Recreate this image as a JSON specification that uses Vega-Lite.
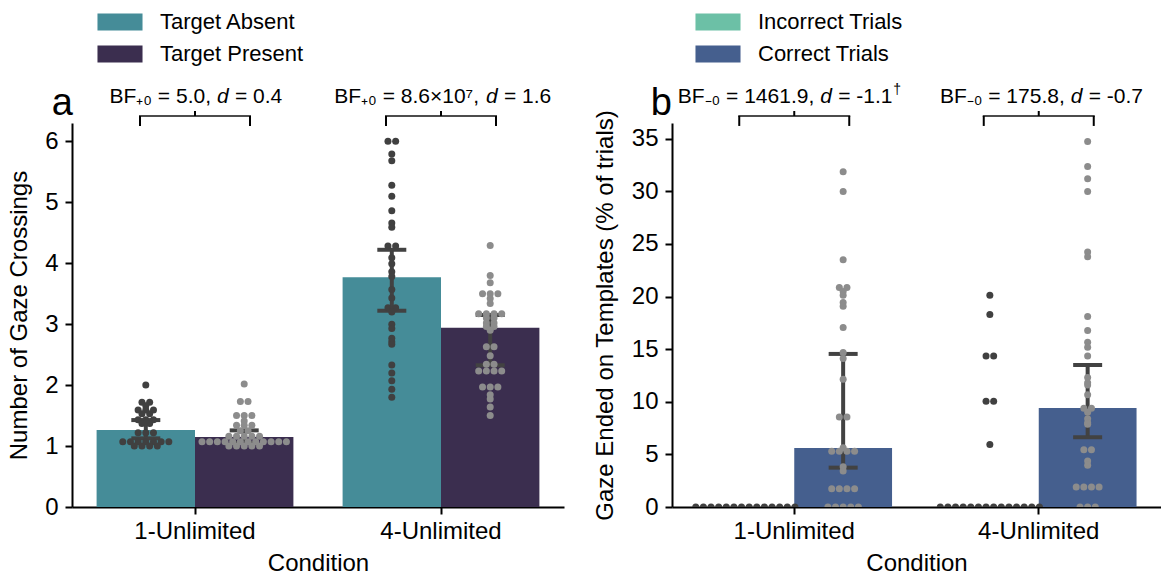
{
"$schema": "https://vega.github.io/schema/vega-lite/v6.json",
"background": "white",
"padding": {"left": 7, "top": 11, "right": 0, "bottom": 1},
"config": {
 "view": {"stroke": null},
 "font": "Liberation Sans",
 "axis": {"labelFont": "Liberation Sans", "labelFontSize": 24, "labelColor": "#000", "titleFont": "Liberation Sans", "titleFontSize": 24, "titleFontWeight": "normal", "titleColor": "#000", "domainColor": "#000", "domainWidth": 2, "tickColor": "#000", "tickWidth": 2, "tickSize": 7, "grid": false},
 "legend": {"labelFont": "Liberation Sans", "labelFontSize": 22, "labelColor": "#000", "symbolStrokeWidth": 0, "symbolOpacity": 1, "padding": 0, "rowPadding": 10, "labelOffset": 29, "symbolType": "M-2.65,-1H2.65V1H-2.65Z", "symbolSize": 289},
 "title": {"font": "Liberation Sans", "fontSize": 38, "fontWeight": "normal", "color": "#000"},
 "text": {"font": "Liberation Sans", "fontSize": 21, "color": "#000"}
},
"datasets": {
 "barsA": [
  {"Condition": "1-Unlimited", "Group": "Target Absent", "mean": 1.262, "lo": 1.126, "hi": 1.426},
  {"Condition": "1-Unlimited", "Group": "Target Present", "mean": 1.148, "lo": 1.05, "hi": 1.257},
  {"Condition": "4-Unlimited", "Group": "Target Absent", "mean": 3.77, "lo": 3.22, "hi": 4.22},
  {"Condition": "4-Unlimited", "Group": "Target Present", "mean": 2.94, "lo": 2.325, "hi": 3.15}
 ],
 "barsB": [
  {"Condition": "1-Unlimited", "Group": "Incorrect Trials", "mean": 0},
  {"Condition": "1-Unlimited", "Group": "Correct Trials", "mean": 5.61, "lo": 3.74, "hi": 14.55},
  {"Condition": "4-Unlimited", "Group": "Incorrect Trials", "mean": 0},
  {"Condition": "4-Unlimited", "Group": "Correct Trials", "mean": 9.42, "lo": 6.63, "hi": 13.5}
 ],
 "ptsA": [
  {"Condition": "1-Unlimited", "Group": "Target Absent", "value": 2.0},
  {"Condition": "1-Unlimited", "Group": "Target Absent", "value": 1.72},
  {"Condition": "1-Unlimited", "Group": "Target Absent", "value": 1.72},
  {"Condition": "1-Unlimited", "Group": "Target Absent", "value": 1.66},
  {"Condition": "1-Unlimited", "Group": "Target Absent", "value": 1.59},
  {"Condition": "1-Unlimited", "Group": "Target Absent", "value": 1.59},
  {"Condition": "1-Unlimited", "Group": "Target Absent", "value": 1.59},
  {"Condition": "1-Unlimited", "Group": "Target Absent", "value": 1.53},
  {"Condition": "1-Unlimited", "Group": "Target Absent", "value": 1.53},
  {"Condition": "1-Unlimited", "Group": "Target Absent", "value": 1.43},
  {"Condition": "1-Unlimited", "Group": "Target Absent", "value": 1.43},
  {"Condition": "1-Unlimited", "Group": "Target Absent", "value": 1.43},
  {"Condition": "1-Unlimited", "Group": "Target Absent", "value": 1.37},
  {"Condition": "1-Unlimited", "Group": "Target Absent", "value": 1.37},
  {"Condition": "1-Unlimited", "Group": "Target Absent", "value": 1.22},
  {"Condition": "1-Unlimited", "Group": "Target Absent", "value": 1.22},
  {"Condition": "1-Unlimited", "Group": "Target Absent", "value": 1.22},
  {"Condition": "1-Unlimited", "Group": "Target Absent", "value": 1.07},
  {"Condition": "1-Unlimited", "Group": "Target Absent", "value": 1.07},
  {"Condition": "1-Unlimited", "Group": "Target Absent", "value": 1.07},
  {"Condition": "1-Unlimited", "Group": "Target Absent", "value": 1.07},
  {"Condition": "1-Unlimited", "Group": "Target Absent", "value": 1.07},
  {"Condition": "1-Unlimited", "Group": "Target Absent", "value": 1.07},
  {"Condition": "1-Unlimited", "Group": "Target Absent", "value": 1.07},
  {"Condition": "1-Unlimited", "Group": "Target Absent", "value": 1.0},
  {"Condition": "1-Unlimited", "Group": "Target Absent", "value": 1.0},
  {"Condition": "1-Unlimited", "Group": "Target Absent", "value": 1.0},
  {"Condition": "1-Unlimited", "Group": "Target Absent", "value": 1.0},
  {"Condition": "1-Unlimited", "Group": "Target Present", "value": 2.02},
  {"Condition": "1-Unlimited", "Group": "Target Present", "value": 1.73},
  {"Condition": "1-Unlimited", "Group": "Target Present", "value": 1.73},
  {"Condition": "1-Unlimited", "Group": "Target Present", "value": 1.5},
  {"Condition": "1-Unlimited", "Group": "Target Present", "value": 1.5},
  {"Condition": "1-Unlimited", "Group": "Target Present", "value": 1.5},
  {"Condition": "1-Unlimited", "Group": "Target Present", "value": 1.41},
  {"Condition": "1-Unlimited", "Group": "Target Present", "value": 1.34},
  {"Condition": "1-Unlimited", "Group": "Target Present", "value": 1.34},
  {"Condition": "1-Unlimited", "Group": "Target Present", "value": 1.34},
  {"Condition": "1-Unlimited", "Group": "Target Present", "value": 1.25},
  {"Condition": "1-Unlimited", "Group": "Target Present", "value": 1.25},
  {"Condition": "1-Unlimited", "Group": "Target Present", "value": 1.16},
  {"Condition": "1-Unlimited", "Group": "Target Present", "value": 1.16},
  {"Condition": "1-Unlimited", "Group": "Target Present", "value": 1.16},
  {"Condition": "1-Unlimited", "Group": "Target Present", "value": 1.16},
  {"Condition": "1-Unlimited", "Group": "Target Present", "value": 1.16},
  {"Condition": "1-Unlimited", "Group": "Target Present", "value": 1.07},
  {"Condition": "1-Unlimited", "Group": "Target Present", "value": 1.07},
  {"Condition": "1-Unlimited", "Group": "Target Present", "value": 1.07},
  {"Condition": "1-Unlimited", "Group": "Target Present", "value": 1.07},
  {"Condition": "1-Unlimited", "Group": "Target Present", "value": 1.07},
  {"Condition": "1-Unlimited", "Group": "Target Present", "value": 1.07},
  {"Condition": "1-Unlimited", "Group": "Target Present", "value": 1.07},
  {"Condition": "1-Unlimited", "Group": "Target Present", "value": 1.07},
  {"Condition": "1-Unlimited", "Group": "Target Present", "value": 1.07},
  {"Condition": "1-Unlimited", "Group": "Target Present", "value": 1.07},
  {"Condition": "1-Unlimited", "Group": "Target Present", "value": 1.07},
  {"Condition": "1-Unlimited", "Group": "Target Present", "value": 1.07},
  {"Condition": "1-Unlimited", "Group": "Target Present", "value": 1.0},
  {"Condition": "1-Unlimited", "Group": "Target Present", "value": 1.0},
  {"Condition": "1-Unlimited", "Group": "Target Present", "value": 1.0},
  {"Condition": "1-Unlimited", "Group": "Target Present", "value": 1.0},
  {"Condition": "1-Unlimited", "Group": "Target Present", "value": 1.0},
  {"Condition": "4-Unlimited", "Group": "Target Absent", "value": 6.0},
  {"Condition": "4-Unlimited", "Group": "Target Absent", "value": 6.0},
  {"Condition": "4-Unlimited", "Group": "Target Absent", "value": 5.79},
  {"Condition": "4-Unlimited", "Group": "Target Absent", "value": 5.68},
  {"Condition": "4-Unlimited", "Group": "Target Absent", "value": 5.28},
  {"Condition": "4-Unlimited", "Group": "Target Absent", "value": 5.1},
  {"Condition": "4-Unlimited", "Group": "Target Absent", "value": 4.86},
  {"Condition": "4-Unlimited", "Group": "Target Absent", "value": 4.66},
  {"Condition": "4-Unlimited", "Group": "Target Absent", "value": 4.59},
  {"Condition": "4-Unlimited", "Group": "Target Absent", "value": 4.28},
  {"Condition": "4-Unlimited", "Group": "Target Absent", "value": 4.28},
  {"Condition": "4-Unlimited", "Group": "Target Absent", "value": 4.09},
  {"Condition": "4-Unlimited", "Group": "Target Absent", "value": 3.99},
  {"Condition": "4-Unlimited", "Group": "Target Absent", "value": 3.86},
  {"Condition": "4-Unlimited", "Group": "Target Absent", "value": 3.78},
  {"Condition": "4-Unlimited", "Group": "Target Absent", "value": 3.57},
  {"Condition": "4-Unlimited", "Group": "Target Absent", "value": 3.43},
  {"Condition": "4-Unlimited", "Group": "Target Absent", "value": 3.27},
  {"Condition": "4-Unlimited", "Group": "Target Absent", "value": 3.27},
  {"Condition": "4-Unlimited", "Group": "Target Absent", "value": 3.2},
  {"Condition": "4-Unlimited", "Group": "Target Absent", "value": 3.0},
  {"Condition": "4-Unlimited", "Group": "Target Absent", "value": 2.93},
  {"Condition": "4-Unlimited", "Group": "Target Absent", "value": 2.77},
  {"Condition": "4-Unlimited", "Group": "Target Absent", "value": 2.71},
  {"Condition": "4-Unlimited", "Group": "Target Absent", "value": 2.67},
  {"Condition": "4-Unlimited", "Group": "Target Absent", "value": 2.33},
  {"Condition": "4-Unlimited", "Group": "Target Absent", "value": 2.2},
  {"Condition": "4-Unlimited", "Group": "Target Absent", "value": 2.07},
  {"Condition": "4-Unlimited", "Group": "Target Absent", "value": 1.93},
  {"Condition": "4-Unlimited", "Group": "Target Absent", "value": 1.8},
  {"Condition": "4-Unlimited", "Group": "Target Present", "value": 4.29},
  {"Condition": "4-Unlimited", "Group": "Target Present", "value": 3.8},
  {"Condition": "4-Unlimited", "Group": "Target Present", "value": 3.68},
  {"Condition": "4-Unlimited", "Group": "Target Present", "value": 3.5},
  {"Condition": "4-Unlimited", "Group": "Target Present", "value": 3.5},
  {"Condition": "4-Unlimited", "Group": "Target Present", "value": 3.5},
  {"Condition": "4-Unlimited", "Group": "Target Present", "value": 3.42},
  {"Condition": "4-Unlimited", "Group": "Target Present", "value": 3.34},
  {"Condition": "4-Unlimited", "Group": "Target Present", "value": 3.17},
  {"Condition": "4-Unlimited", "Group": "Target Present", "value": 3.17},
  {"Condition": "4-Unlimited", "Group": "Target Present", "value": 3.17},
  {"Condition": "4-Unlimited", "Group": "Target Present", "value": 3.17},
  {"Condition": "4-Unlimited", "Group": "Target Present", "value": 3.1},
  {"Condition": "4-Unlimited", "Group": "Target Present", "value": 3.1},
  {"Condition": "4-Unlimited", "Group": "Target Present", "value": 3.02},
  {"Condition": "4-Unlimited", "Group": "Target Present", "value": 3.02},
  {"Condition": "4-Unlimited", "Group": "Target Present", "value": 2.96},
  {"Condition": "4-Unlimited", "Group": "Target Present", "value": 2.96},
  {"Condition": "4-Unlimited", "Group": "Target Present", "value": 2.9},
  {"Condition": "4-Unlimited", "Group": "Target Present", "value": 2.63},
  {"Condition": "4-Unlimited", "Group": "Target Present", "value": 2.63},
  {"Condition": "4-Unlimited", "Group": "Target Present", "value": 2.48},
  {"Condition": "4-Unlimited", "Group": "Target Present", "value": 2.34},
  {"Condition": "4-Unlimited", "Group": "Target Present", "value": 2.34},
  {"Condition": "4-Unlimited", "Group": "Target Present", "value": 2.23},
  {"Condition": "4-Unlimited", "Group": "Target Present", "value": 2.23},
  {"Condition": "4-Unlimited", "Group": "Target Present", "value": 2.23},
  {"Condition": "4-Unlimited", "Group": "Target Present", "value": 2.23},
  {"Condition": "4-Unlimited", "Group": "Target Present", "value": 1.97},
  {"Condition": "4-Unlimited", "Group": "Target Present", "value": 1.97},
  {"Condition": "4-Unlimited", "Group": "Target Present", "value": 1.97},
  {"Condition": "4-Unlimited", "Group": "Target Present", "value": 1.84},
  {"Condition": "4-Unlimited", "Group": "Target Present", "value": 1.77},
  {"Condition": "4-Unlimited", "Group": "Target Present", "value": 1.64},
  {"Condition": "4-Unlimited", "Group": "Target Present", "value": 1.5}
 ],
 "ptsB": [
  {"Condition": "1-Unlimited", "Group": "Incorrect Trials", "value": 0},
  {"Condition": "1-Unlimited", "Group": "Incorrect Trials", "value": 0},
  {"Condition": "1-Unlimited", "Group": "Incorrect Trials", "value": 0},
  {"Condition": "1-Unlimited", "Group": "Incorrect Trials", "value": 0},
  {"Condition": "1-Unlimited", "Group": "Incorrect Trials", "value": 0},
  {"Condition": "1-Unlimited", "Group": "Incorrect Trials", "value": 0},
  {"Condition": "1-Unlimited", "Group": "Incorrect Trials", "value": 0},
  {"Condition": "1-Unlimited", "Group": "Incorrect Trials", "value": 0},
  {"Condition": "1-Unlimited", "Group": "Incorrect Trials", "value": 0},
  {"Condition": "1-Unlimited", "Group": "Incorrect Trials", "value": 0},
  {"Condition": "1-Unlimited", "Group": "Incorrect Trials", "value": 0},
  {"Condition": "1-Unlimited", "Group": "Incorrect Trials", "value": 0},
  {"Condition": "1-Unlimited", "Group": "Incorrect Trials", "value": 0},
  {"Condition": "1-Unlimited", "Group": "Incorrect Trials", "value": 0},
  {"Condition": "1-Unlimited", "Group": "Correct Trials", "value": 31.86},
  {"Condition": "1-Unlimited", "Group": "Correct Trials", "value": 29.99},
  {"Condition": "1-Unlimited", "Group": "Correct Trials", "value": 23.49},
  {"Condition": "1-Unlimited", "Group": "Correct Trials", "value": 20.86},
  {"Condition": "1-Unlimited", "Group": "Correct Trials", "value": 20.86},
  {"Condition": "1-Unlimited", "Group": "Correct Trials", "value": 20.48},
  {"Condition": "1-Unlimited", "Group": "Correct Trials", "value": 20.13},
  {"Condition": "1-Unlimited", "Group": "Correct Trials", "value": 19.43},
  {"Condition": "1-Unlimited", "Group": "Correct Trials", "value": 19.09},
  {"Condition": "1-Unlimited", "Group": "Correct Trials", "value": 17.05},
  {"Condition": "1-Unlimited", "Group": "Correct Trials", "value": 14.68},
  {"Condition": "1-Unlimited", "Group": "Correct Trials", "value": 14.11},
  {"Condition": "1-Unlimited", "Group": "Correct Trials", "value": 12.14},
  {"Condition": "1-Unlimited", "Group": "Correct Trials", "value": 8.56},
  {"Condition": "1-Unlimited", "Group": "Correct Trials", "value": 8.56},
  {"Condition": "1-Unlimited", "Group": "Correct Trials", "value": 5.64},
  {"Condition": "1-Unlimited", "Group": "Correct Trials", "value": 5.3},
  {"Condition": "1-Unlimited", "Group": "Correct Trials", "value": 5.3},
  {"Condition": "1-Unlimited", "Group": "Correct Trials", "value": 5.3},
  {"Condition": "1-Unlimited", "Group": "Correct Trials", "value": 5.3},
  {"Condition": "1-Unlimited", "Group": "Correct Trials", "value": 3.83},
  {"Condition": "1-Unlimited", "Group": "Correct Trials", "value": 3.42},
  {"Condition": "1-Unlimited", "Group": "Correct Trials", "value": 1.74},
  {"Condition": "1-Unlimited", "Group": "Correct Trials", "value": 1.74},
  {"Condition": "1-Unlimited", "Group": "Correct Trials", "value": 1.74},
  {"Condition": "1-Unlimited", "Group": "Correct Trials", "value": 1.74},
  {"Condition": "1-Unlimited", "Group": "Correct Trials", "value": 0},
  {"Condition": "1-Unlimited", "Group": "Correct Trials", "value": 0},
  {"Condition": "1-Unlimited", "Group": "Correct Trials", "value": 0},
  {"Condition": "1-Unlimited", "Group": "Correct Trials", "value": 0},
  {"Condition": "1-Unlimited", "Group": "Correct Trials", "value": 0},
  {"Condition": "4-Unlimited", "Group": "Incorrect Trials", "value": 20.13},
  {"Condition": "4-Unlimited", "Group": "Incorrect Trials", "value": 18.29},
  {"Condition": "4-Unlimited", "Group": "Incorrect Trials", "value": 14.36},
  {"Condition": "4-Unlimited", "Group": "Incorrect Trials", "value": 14.36},
  {"Condition": "4-Unlimited", "Group": "Incorrect Trials", "value": 10.05},
  {"Condition": "4-Unlimited", "Group": "Incorrect Trials", "value": 10.05},
  {"Condition": "4-Unlimited", "Group": "Incorrect Trials", "value": 5.93},
  {"Condition": "4-Unlimited", "Group": "Incorrect Trials", "value": 0},
  {"Condition": "4-Unlimited", "Group": "Incorrect Trials", "value": 0},
  {"Condition": "4-Unlimited", "Group": "Incorrect Trials", "value": 0},
  {"Condition": "4-Unlimited", "Group": "Incorrect Trials", "value": 0},
  {"Condition": "4-Unlimited", "Group": "Incorrect Trials", "value": 0},
  {"Condition": "4-Unlimited", "Group": "Incorrect Trials", "value": 0},
  {"Condition": "4-Unlimited", "Group": "Incorrect Trials", "value": 0},
  {"Condition": "4-Unlimited", "Group": "Incorrect Trials", "value": 0},
  {"Condition": "4-Unlimited", "Group": "Incorrect Trials", "value": 0},
  {"Condition": "4-Unlimited", "Group": "Incorrect Trials", "value": 0},
  {"Condition": "4-Unlimited", "Group": "Incorrect Trials", "value": 0},
  {"Condition": "4-Unlimited", "Group": "Incorrect Trials", "value": 0},
  {"Condition": "4-Unlimited", "Group": "Incorrect Trials", "value": 0},
  {"Condition": "4-Unlimited", "Group": "Incorrect Trials", "value": 0},
  {"Condition": "4-Unlimited", "Group": "Correct Trials", "value": 34.75},
  {"Condition": "4-Unlimited", "Group": "Correct Trials", "value": 32.37},
  {"Condition": "4-Unlimited", "Group": "Correct Trials", "value": 31.2},
  {"Condition": "4-Unlimited", "Group": "Correct Trials", "value": 29.99},
  {"Condition": "4-Unlimited", "Group": "Correct Trials", "value": 24.25},
  {"Condition": "4-Unlimited", "Group": "Correct Trials", "value": 23.78},
  {"Condition": "4-Unlimited", "Group": "Correct Trials", "value": 18.1},
  {"Condition": "4-Unlimited", "Group": "Correct Trials", "value": 16.77},
  {"Condition": "4-Unlimited", "Group": "Correct Trials", "value": 15.66},
  {"Condition": "4-Unlimited", "Group": "Correct Trials", "value": 15.19},
  {"Condition": "4-Unlimited", "Group": "Correct Trials", "value": 14.36},
  {"Condition": "4-Unlimited", "Group": "Correct Trials", "value": 12.3},
  {"Condition": "4-Unlimited", "Group": "Correct Trials", "value": 11.82},
  {"Condition": "4-Unlimited", "Group": "Correct Trials", "value": 11.6},
  {"Condition": "4-Unlimited", "Group": "Correct Trials", "value": 10.68},
  {"Condition": "4-Unlimited", "Group": "Correct Trials", "value": 9.39},
  {"Condition": "4-Unlimited", "Group": "Correct Trials", "value": 9.39},
  {"Condition": "4-Unlimited", "Group": "Correct Trials", "value": 9.01},
  {"Condition": "4-Unlimited", "Group": "Correct Trials", "value": 8.4},
  {"Condition": "4-Unlimited", "Group": "Correct Trials", "value": 8.02},
  {"Condition": "4-Unlimited", "Group": "Correct Trials", "value": 7.86},
  {"Condition": "4-Unlimited", "Group": "Correct Trials", "value": 5.45},
  {"Condition": "4-Unlimited", "Group": "Correct Trials", "value": 5.45},
  {"Condition": "4-Unlimited", "Group": "Correct Trials", "value": 4.37},
  {"Condition": "4-Unlimited", "Group": "Correct Trials", "value": 3.96},
  {"Condition": "4-Unlimited", "Group": "Correct Trials", "value": 1.9},
  {"Condition": "4-Unlimited", "Group": "Correct Trials", "value": 1.9},
  {"Condition": "4-Unlimited", "Group": "Correct Trials", "value": 1.9},
  {"Condition": "4-Unlimited", "Group": "Correct Trials", "value": 1.9},
  {"Condition": "4-Unlimited", "Group": "Correct Trials", "value": 0},
  {"Condition": "4-Unlimited", "Group": "Correct Trials", "value": 0},
  {"Condition": "4-Unlimited", "Group": "Correct Trials", "value": 0}
 ],
 "annA": [
  {"Condition": "1-Unlimited", "pre": "BF₊₀ = 5.0,", "post": "= 0.4"},
  {"Condition": "4-Unlimited", "pre": "BF₊₀ = 8.6×10⁷,", "post": "= 1.6"}
 ],
 "annB": [
  {"Condition": "1-Unlimited", "pre": "BF₋₀ = 1461.9,", "post": "= -1.1"},
  {"Condition": "4-Unlimited", "pre": "BF₋₀ = 175.8,", "post": "= -0.7"}
 ]
},
"bounds": "flush",
"spacing": 108,
"resolve": {"scale": {"color": "independent"}, "legend": {"color": "independent"}},
"hconcat": [
 {
  "width": 492, "height": 384,
  "title": {"text": "a", "anchor": "start", "frame": "group", "align": "right", "baseline": "alphabetic", "offset": -142, "dx": 1},
  "resolve": {"scale": {"xOffset": "independent"}},
  "layer": [
   {"data": {"name": "barsA"}, "mark": {"type": "bar"},
    "encoding": {
     "x": {"field": "Condition", "type": "nominal", "title": "Condition", "scale": {"domain": ["1-Unlimited", "4-Unlimited"], "paddingInner": 0.2, "paddingOuter": 0.1}, "axis": {"labelAngle": 0, "labelPadding": 5, "titlePadding": 8}},
     "xOffset": {"field": "Group", "type": "nominal", "scale": {"domain": ["Target Absent", "Target Present"], "paddingInner": 0, "paddingOuter": 0}},
     "y": {"field": "mean", "type": "quantitative", "title": "Number of Gaze Crossings", "scale": {"domain": [0, 6.3], "nice": false}, "axis": {"values": [0, 1, 2, 3, 4, 5, 6], "format": "d", "labelPadding": 7, "titlePadding": 13}},
     "color": {"field": "Group", "type": "nominal", "scale": {"domain": ["Target Absent", "Target Present"], "range": ["#458c98", "#3b2e4f"]}, "legend": {"title": null, "orient": "none", "legendX": 37, "legendY": -112}}
    }},
   {"data": {"name": "barsA"},
    "transform": [{"filter": "isValid(datum.lo)"}, {"calculate": "datum.Group == 'Target Absent' ? -0.5 : 0.5", "as": "gx"}],
    "mark": {"type": "rule", "color": "#424242", "strokeWidth": 4},
    "encoding": {
     "x": {"field": "Condition", "type": "nominal", "title": "Condition", "scale": {"domain": ["1-Unlimited", "4-Unlimited"], "paddingInner": 0.2, "paddingOuter": 0.1}},
     "xOffset": {"field": "gx", "type": "quantitative", "scale": {"domain": [-1, 1], "nice": false, "zero": false}},
     "y": {"field": "lo", "type": "quantitative", "title": "Number of Gaze Crossings", "scale": {"domain": [0, 6.3], "nice": false}},
     "y2": {"field": "hi"}
    }},
   {"data": {"name": "barsA"},
    "transform": [{"filter": "isValid(datum.lo)"}, {"calculate": "datum.Group == 'Target Absent' ? -0.5 : 0.5", "as": "gx"}, {"fold": ["lo", "hi"], "as": ["end", "ci"]}],
    "mark": {"type": "tick", "orient": "horizontal", "color": "#424242", "size": 29, "thickness": 4, "opacity": 1},
    "encoding": {
     "x": {"field": "Condition", "type": "nominal", "title": "Condition", "scale": {"domain": ["1-Unlimited", "4-Unlimited"], "paddingInner": 0.2, "paddingOuter": 0.1}},
     "xOffset": {"field": "gx", "type": "quantitative", "scale": {"domain": [-1, 1], "nice": false, "zero": false}},
     "y": {"field": "ci", "type": "quantitative", "title": "Number of Gaze Crossings", "scale": {"domain": [0, 6.3], "nice": false}}
    }},
   {"data": {"name": "ptsA"},
    "transform": [
     {"window": [{"op": "row_number", "as": "i"}, {"op": "count", "as": "n"}], "groupby": ["Condition", "Group", "value"], "frame": [null, null]},
     {"calculate": "(datum.Group == 'Target Absent' ? -0.5 : 0.5) + (datum.i - (datum.n + 1) / 2) * 0.078", "as": "off"}
    ],
    "mark": {"type": "circle", "size": 49, "opacity": 1, "clip": true},
    "encoding": {
     "x": {"field": "Condition", "type": "nominal", "title": "Condition", "scale": {"domain": ["1-Unlimited", "4-Unlimited"], "paddingInner": 0.2, "paddingOuter": 0.1}},
     "xOffset": {"field": "off", "type": "quantitative", "scale": {"domain": [-1, 1], "nice": false, "zero": false}},
     "y": {"field": "value", "type": "quantitative", "title": "Number of Gaze Crossings", "scale": {"domain": [0, 6.3], "nice": false}},
     "color": {"condition": {"test": "datum.Group == 'Target Absent'", "value": "#404040"}, "value": "#8c8c8c"}
    }},
   {"data": {"name": "annA"},
    "mark": {"type": "tick", "orient": "horizontal", "color": "#000", "size": 112, "thickness": 2},
    "encoding": {
     "x": {"field": "Condition", "type": "nominal", "title": "Condition", "scale": {"domain": ["1-Unlimited", "4-Unlimited"], "paddingInner": 0.2, "paddingOuter": 0.1}},
     "y": {"datum": 6.415, "type": "quantitative", "title": "Number of Gaze Crossings", "scale": {"domain": [0, 6.3], "nice": false}}
    }},
   {"data": {"name": "annA"},
    "mark": {"type": "rule", "color": "#000", "strokeWidth": 2, "xOffset": -55},
    "encoding": {
     "x": {"field": "Condition", "type": "nominal", "title": "Condition", "scale": {"domain": ["1-Unlimited", "4-Unlimited"], "paddingInner": 0.2, "paddingOuter": 0.1}},
     "y": {"datum": 6.415, "type": "quantitative", "title": "Number of Gaze Crossings", "scale": {"domain": [0, 6.3], "nice": false}},
     "y2": {"datum": 6.251}
    }},
   {"data": {"name": "annA"},
    "mark": {"type": "rule", "color": "#000", "strokeWidth": 2, "xOffset": 55},
    "encoding": {
     "x": {"field": "Condition", "type": "nominal", "title": "Condition", "scale": {"domain": ["1-Unlimited", "4-Unlimited"], "paddingInner": 0.2, "paddingOuter": 0.1}},
     "y": {"datum": 6.415, "type": "quantitative", "title": "Number of Gaze Crossings", "scale": {"domain": [0, 6.3], "nice": false}},
     "y2": {"datum": 6.251}
    }},
   {"data": {"name": "annA"},
    "mark": {"type": "rule", "color": "#000", "strokeWidth": 2},
    "encoding": {
     "x": {"field": "Condition", "type": "nominal", "title": "Condition", "scale": {"domain": ["1-Unlimited", "4-Unlimited"], "paddingInner": 0.2, "paddingOuter": 0.1}},
     "y": {"datum": 6.497, "type": "quantitative", "title": "Number of Gaze Crossings", "scale": {"domain": [0, 6.3], "nice": false}},
     "y2": {"datum": 6.415}
    }},
   {"data": {"name": "annA"}, "transform": [{"filter": "datum.Condition == '1-Unlimited'"}],
    "mark": {"type": "text", "align": "right", "baseline": "alphabetic", "dx": 16},
    "encoding": {
     "x": {"field": "Condition", "type": "nominal", "title": "Condition", "scale": {"domain": ["1-Unlimited", "4-Unlimited"], "paddingInner": 0.2, "paddingOuter": 0.1}},
     "y": {"datum": 6.633, "type": "quantitative", "title": "Number of Gaze Crossings", "scale": {"domain": [0, 6.3], "nice": false}},
     "text": {"field": "pre"}
    }},
   {"data": {"name": "annA"}, "transform": [{"filter": "datum.Condition == '1-Unlimited'"}],
    "mark": {"type": "text", "align": "left", "baseline": "alphabetic", "dx": 22, "text": "d", "fontStyle": "italic"},
    "encoding": {
     "x": {"field": "Condition", "type": "nominal", "title": "Condition", "scale": {"domain": ["1-Unlimited", "4-Unlimited"], "paddingInner": 0.2, "paddingOuter": 0.1}},
     "y": {"datum": 6.633, "type": "quantitative", "title": "Number of Gaze Crossings", "scale": {"domain": [0, 6.3], "nice": false}}
    }},
   {"data": {"name": "annA"}, "transform": [{"filter": "datum.Condition == '1-Unlimited'"}],
    "mark": {"type": "text", "align": "left", "baseline": "alphabetic", "dx": 40},
    "encoding": {
     "x": {"field": "Condition", "type": "nominal", "title": "Condition", "scale": {"domain": ["1-Unlimited", "4-Unlimited"], "paddingInner": 0.2, "paddingOuter": 0.1}},
     "y": {"datum": 6.633, "type": "quantitative", "title": "Number of Gaze Crossings", "scale": {"domain": [0, 6.3], "nice": false}},
     "text": {"field": "post"}
    }},
   {"data": {"name": "annA"}, "transform": [{"filter": "datum.Condition == '4-Unlimited'"}],
    "mark": {"type": "text", "align": "right", "baseline": "alphabetic", "dx": 38},
    "encoding": {
     "x": {"field": "Condition", "type": "nominal", "title": "Condition", "scale": {"domain": ["1-Unlimited", "4-Unlimited"], "paddingInner": 0.2, "paddingOuter": 0.1}},
     "y": {"datum": 6.633, "type": "quantitative", "title": "Number of Gaze Crossings", "scale": {"domain": [0, 6.3], "nice": false}},
     "text": {"field": "pre"}
    }},
   {"data": {"name": "annA"}, "transform": [{"filter": "datum.Condition == '4-Unlimited'"}],
    "mark": {"type": "text", "align": "left", "baseline": "alphabetic", "dx": 45, "text": "d", "fontStyle": "italic"},
    "encoding": {
     "x": {"field": "Condition", "type": "nominal", "title": "Condition", "scale": {"domain": ["1-Unlimited", "4-Unlimited"], "paddingInner": 0.2, "paddingOuter": 0.1}},
     "y": {"datum": 6.633, "type": "quantitative", "title": "Number of Gaze Crossings", "scale": {"domain": [0, 6.3], "nice": false}}
    }},
   {"data": {"name": "annA"}, "transform": [{"filter": "datum.Condition == '4-Unlimited'"}],
    "mark": {"type": "text", "align": "left", "baseline": "alphabetic", "dx": 63},
    "encoding": {
     "x": {"field": "Condition", "type": "nominal", "title": "Condition", "scale": {"domain": ["1-Unlimited", "4-Unlimited"], "paddingInner": 0.2, "paddingOuter": 0.1}},
     "y": {"datum": 6.633, "type": "quantitative", "title": "Number of Gaze Crossings", "scale": {"domain": [0, 6.3], "nice": false}},
     "text": {"field": "post"}
    }}
  ]
 },
 {
  "width": 489, "height": 384,
  "title": {"text": "b", "anchor": "start", "frame": "group", "align": "right", "baseline": "alphabetic", "offset": -142, "dx": 0},
  "resolve": {"scale": {"xOffset": "independent"}},
  "layer": [
   {"data": {"name": "barsB"}, "mark": {"type": "bar"},
    "encoding": {
     "x": {"field": "Condition", "type": "nominal", "title": "Condition", "scale": {"domain": ["1-Unlimited", "4-Unlimited"], "paddingInner": 0.2, "paddingOuter": 0.1}, "axis": {"labelAngle": 0, "labelPadding": 5, "titlePadding": 8}},
     "xOffset": {"field": "Group", "type": "nominal", "scale": {"domain": ["Incorrect Trials", "Correct Trials"], "paddingInner": 0, "paddingOuter": 0}},
     "y": {"field": "mean", "type": "quantitative", "title": "Gaze Ended on Templates (% of trials)", "scale": {"domain": [0, 36.5], "nice": false}, "axis": {"values": [0, 5, 10, 15, 20, 25, 30, 35], "format": "d", "labelPadding": 7, "titlePadding": 14}},
     "color": {"field": "Group", "type": "nominal", "scale": {"domain": ["Incorrect Trials", "Correct Trials"], "range": ["#6cc0a6", "#455f8e"]}, "legend": {"title": null, "orient": "none", "legendX": 35, "legendY": -112}}
    }},
   {"data": {"name": "barsB"},
    "transform": [{"filter": "isValid(datum.lo)"}, {"calculate": "datum.Group == 'Incorrect Trials' ? -0.5 : 0.5", "as": "gx"}],
    "mark": {"type": "rule", "color": "#424242", "strokeWidth": 4},
    "encoding": {
     "x": {"field": "Condition", "type": "nominal", "title": "Condition", "scale": {"domain": ["1-Unlimited", "4-Unlimited"], "paddingInner": 0.2, "paddingOuter": 0.1}},
     "xOffset": {"field": "gx", "type": "quantitative", "scale": {"domain": [-1, 1], "nice": false, "zero": false}},
     "y": {"field": "lo", "type": "quantitative", "title": "Gaze Ended on Templates (% of trials)", "scale": {"domain": [0, 36.5], "nice": false}},
     "y2": {"field": "hi"}
    }},
   {"data": {"name": "barsB"},
    "transform": [{"filter": "isValid(datum.lo)"}, {"calculate": "datum.Group == 'Incorrect Trials' ? -0.5 : 0.5", "as": "gx"}, {"fold": ["lo", "hi"], "as": ["end", "ci"]}],
    "mark": {"type": "tick", "orient": "horizontal", "color": "#424242", "size": 29, "thickness": 4, "opacity": 1},
    "encoding": {
     "x": {"field": "Condition", "type": "nominal", "title": "Condition", "scale": {"domain": ["1-Unlimited", "4-Unlimited"], "paddingInner": 0.2, "paddingOuter": 0.1}},
     "xOffset": {"field": "gx", "type": "quantitative", "scale": {"domain": [-1, 1], "nice": false, "zero": false}},
     "y": {"field": "ci", "type": "quantitative", "title": "Gaze Ended on Templates (% of trials)", "scale": {"domain": [0, 36.5], "nice": false}}
    }},
   {"data": {"name": "ptsB"},
    "transform": [
     {"window": [{"op": "row_number", "as": "i"}, {"op": "count", "as": "n"}], "groupby": ["Condition", "Group", "value"], "frame": [null, null]},
     {"calculate": "(datum.Group == 'Incorrect Trials' ? -0.5 : 0.5) + (datum.i - (datum.n + 1) / 2) * 0.078", "as": "off"}
    ],
    "mark": {"type": "circle", "size": 49, "opacity": 1, "clip": true},
    "encoding": {
     "x": {"field": "Condition", "type": "nominal", "title": "Condition", "scale": {"domain": ["1-Unlimited", "4-Unlimited"], "paddingInner": 0.2, "paddingOuter": 0.1}},
     "xOffset": {"field": "off", "type": "quantitative", "scale": {"domain": [-1, 1], "nice": false, "zero": false}},
     "y": {"field": "value", "type": "quantitative", "title": "Gaze Ended on Templates (% of trials)", "scale": {"domain": [0, 36.5], "nice": false}},
     "color": {"condition": {"test": "datum.Group == 'Incorrect Trials'", "value": "#404040"}, "value": "#8c8c8c"}
    }},
   {"data": {"name": "annB"},
    "mark": {"type": "tick", "orient": "horizontal", "color": "#000", "size": 112, "thickness": 2},
    "encoding": {
     "x": {"field": "Condition", "type": "nominal", "title": "Condition", "scale": {"domain": ["1-Unlimited", "4-Unlimited"], "paddingInner": 0.2, "paddingOuter": 0.1}},
     "y": {"datum": 37.17, "type": "quantitative", "title": "Gaze Ended on Templates (% of trials)", "scale": {"domain": [0, 36.5], "nice": false}}
    }},
   {"data": {"name": "annB"},
    "mark": {"type": "rule", "color": "#000", "strokeWidth": 2, "xOffset": -55},
    "encoding": {
     "x": {"field": "Condition", "type": "nominal", "title": "Condition", "scale": {"domain": ["1-Unlimited", "4-Unlimited"], "paddingInner": 0.2, "paddingOuter": 0.1}},
     "y": {"datum": 37.17, "type": "quantitative", "title": "Gaze Ended on Templates (% of trials)", "scale": {"domain": [0, 36.5], "nice": false}},
     "y2": {"datum": 36.22}
    }},
   {"data": {"name": "annB"},
    "mark": {"type": "rule", "color": "#000", "strokeWidth": 2, "xOffset": 55},
    "encoding": {
     "x": {"field": "Condition", "type": "nominal", "title": "Condition", "scale": {"domain": ["1-Unlimited", "4-Unlimited"], "paddingInner": 0.2, "paddingOuter": 0.1}},
     "y": {"datum": 37.17, "type": "quantitative", "title": "Gaze Ended on Templates (% of trials)", "scale": {"domain": [0, 36.5], "nice": false}},
     "y2": {"datum": 36.22}
    }},
   {"data": {"name": "annB"},
    "mark": {"type": "rule", "color": "#000", "strokeWidth": 2},
    "encoding": {
     "x": {"field": "Condition", "type": "nominal", "title": "Condition", "scale": {"domain": ["1-Unlimited", "4-Unlimited"], "paddingInner": 0.2, "paddingOuter": 0.1}},
     "y": {"datum": 37.64, "type": "quantitative", "title": "Gaze Ended on Templates (% of trials)", "scale": {"domain": [0, 36.5], "nice": false}},
     "y2": {"datum": 37.17}
    }},
   {"data": {"name": "annB"}, "transform": [{"filter": "datum.Condition == '1-Unlimited'"}],
    "mark": {"type": "text", "align": "right", "baseline": "alphabetic", "dx": 20},
    "encoding": {
     "x": {"field": "Condition", "type": "nominal", "title": "Condition", "scale": {"domain": ["1-Unlimited", "4-Unlimited"], "paddingInner": 0.2, "paddingOuter": 0.1}},
     "y": {"datum": 38.43, "type": "quantitative", "title": "Gaze Ended on Templates (% of trials)", "scale": {"domain": [0, 36.5], "nice": false}},
     "text": {"field": "pre"}
    }},
   {"data": {"name": "annB"}, "transform": [{"filter": "datum.Condition == '1-Unlimited'"}],
    "mark": {"type": "text", "align": "left", "baseline": "alphabetic", "dx": 26, "text": "d", "fontStyle": "italic"},
    "encoding": {
     "x": {"field": "Condition", "type": "nominal", "title": "Condition", "scale": {"domain": ["1-Unlimited", "4-Unlimited"], "paddingInner": 0.2, "paddingOuter": 0.1}},
     "y": {"datum": 38.43, "type": "quantitative", "title": "Gaze Ended on Templates (% of trials)", "scale": {"domain": [0, 36.5], "nice": false}}
    }},
   {"data": {"name": "annB"}, "transform": [{"filter": "datum.Condition == '1-Unlimited'"}],
    "mark": {"type": "text", "align": "left", "baseline": "alphabetic", "dx": 44},
    "encoding": {
     "x": {"field": "Condition", "type": "nominal", "title": "Condition", "scale": {"domain": ["1-Unlimited", "4-Unlimited"], "paddingInner": 0.2, "paddingOuter": 0.1}},
     "y": {"datum": 38.43, "type": "quantitative", "title": "Gaze Ended on Templates (% of trials)", "scale": {"domain": [0, 36.5], "nice": false}},
     "text": {"field": "post"}
    }},
   {"data": {"name": "annB"}, "transform": [{"filter": "datum.Condition == '1-Unlimited'"}],
    "mark": {"type": "text", "align": "left", "baseline": "alphabetic", "dx": 99, "dy": -9, "fontSize": 14, "text": "†"},
    "encoding": {
     "x": {"field": "Condition", "type": "nominal", "title": "Condition", "scale": {"domain": ["1-Unlimited", "4-Unlimited"], "paddingInner": 0.2, "paddingOuter": 0.1}},
     "y": {"datum": 38.43, "type": "quantitative", "title": "Gaze Ended on Templates (% of trials)", "scale": {"domain": [0, 36.5], "nice": false}}
    }},
   {"data": {"name": "annB"}, "transform": [{"filter": "datum.Condition == '4-Unlimited'"}],
    "mark": {"type": "text", "align": "right", "baseline": "alphabetic", "dx": 26},
    "encoding": {
     "x": {"field": "Condition", "type": "nominal", "title": "Condition", "scale": {"domain": ["1-Unlimited", "4-Unlimited"], "paddingInner": 0.2, "paddingOuter": 0.1}},
     "y": {"datum": 38.43, "type": "quantitative", "title": "Gaze Ended on Templates (% of trials)", "scale": {"domain": [0, 36.5], "nice": false}},
     "text": {"field": "pre"}
    }},
   {"data": {"name": "annB"}, "transform": [{"filter": "datum.Condition == '4-Unlimited'"}],
    "mark": {"type": "text", "align": "left", "baseline": "alphabetic", "dx": 32, "text": "d", "fontStyle": "italic"},
    "encoding": {
     "x": {"field": "Condition", "type": "nominal", "title": "Condition", "scale": {"domain": ["1-Unlimited", "4-Unlimited"], "paddingInner": 0.2, "paddingOuter": 0.1}},
     "y": {"datum": 38.43, "type": "quantitative", "title": "Gaze Ended on Templates (% of trials)", "scale": {"domain": [0, 36.5], "nice": false}}
    }},
   {"data": {"name": "annB"}, "transform": [{"filter": "datum.Condition == '4-Unlimited'"}],
    "mark": {"type": "text", "align": "left", "baseline": "alphabetic", "dx": 50},
    "encoding": {
     "x": {"field": "Condition", "type": "nominal", "title": "Condition", "scale": {"domain": ["1-Unlimited", "4-Unlimited"], "paddingInner": 0.2, "paddingOuter": 0.1}},
     "y": {"datum": 38.43, "type": "quantitative", "title": "Gaze Ended on Templates (% of trials)", "scale": {"domain": [0, 36.5], "nice": false}},
     "text": {"field": "post"}
    }}
  ]
 }
]
}
